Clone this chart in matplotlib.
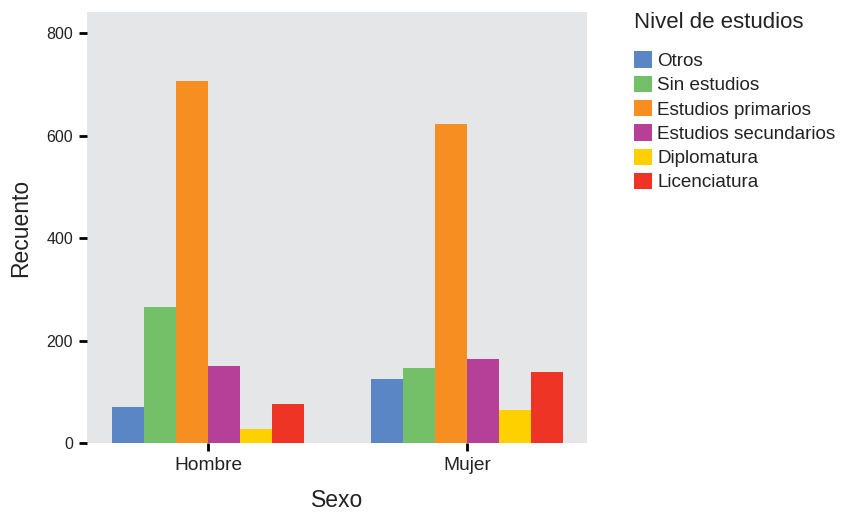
import numpy as np
import matplotlib.pyplot as plt
from matplotlib.patches import Patch

plt.rcParams['font.family'] = ['Liberation Sans', 'DejaVu Sans']

sexos = ["Hombre", "Mujer"]
niveles = ["Otros", "Sin estudios", "Estudios primarios",
           "Estudios secundarios", "Diplomatura", "Licenciatura"]
colores = ["#5B86C5", "#74C069", "#F68E21", "#B63F97", "#FFD000", "#EE3425"]
# recuento por nivel: [Hombre, Mujer]
recuento = {
    "Otros": [70, 125],
    "Sin estudios": [265, 146],
    "Estudios primarios": [706, 622],
    "Estudios secundarios": [150, 164],
    "Diplomatura": [27, 64],
    "Licenciatura": [76, 138],
}

fig = plt.figure(figsize=(8.42, 5.12), dpi=100)
ax = fig.add_axes([87/842, 69/512, 500/842, 431/512])
ax.set_facecolor("#E5E6E8")

x = np.arange(len(sexos))
group_w = 0.742
w = group_w / len(niveles)
for i, (niv, col) in enumerate(zip(niveles, colores)):
    off = -group_w/2 + w*(i + 0.5)
    ax.bar(x + off, recuento[niv], width=w, color=col, linewidth=0)

ax.set_xlim(-0.467, 1.463)
ax.set_ylim(0, 841)
ax.set_xticks(x)
ax.set_xticklabels(sexos)
ax.set_yticks([0, 200, 400, 600, 800])
for s in ax.spines.values():
    s.set_visible(False)
ax.tick_params(axis="both", length=6, width=2, color="black",
               labelcolor="#222222", pad=4)
ax.tick_params(axis="y", labelsize=11.5)
ax.tick_params(axis="x", labelsize=13.8, pad=4)
ax.set_xlabel("Sexo", fontsize=16.5, color="#222222", labelpad=11)
ax.set_ylabel("Recuento", fontsize=16.5, color="#222222", labelpad=10)

handles = [Patch(facecolor=c, edgecolor="none") for c in colores]
leg = fig.legend(handles, niveles, loc="upper left",
                 bbox_to_anchor=(626/842, 1 - 4/512), frameon=False,
                 title="Nivel de estudios", title_fontsize=16, fontsize=13.6,
                 handlelength=0.95, handleheight=0.95, handletextpad=0.3,
                 labelspacing=0.3, borderaxespad=0)
leg._legend_box.align = "left"
leg._legend_box.sep = 13.5
for t in leg.get_texts():
    t.set_color("#222222")
leg.get_title().set_color("#222222")

fig.savefig("out.png", dpi=100)
